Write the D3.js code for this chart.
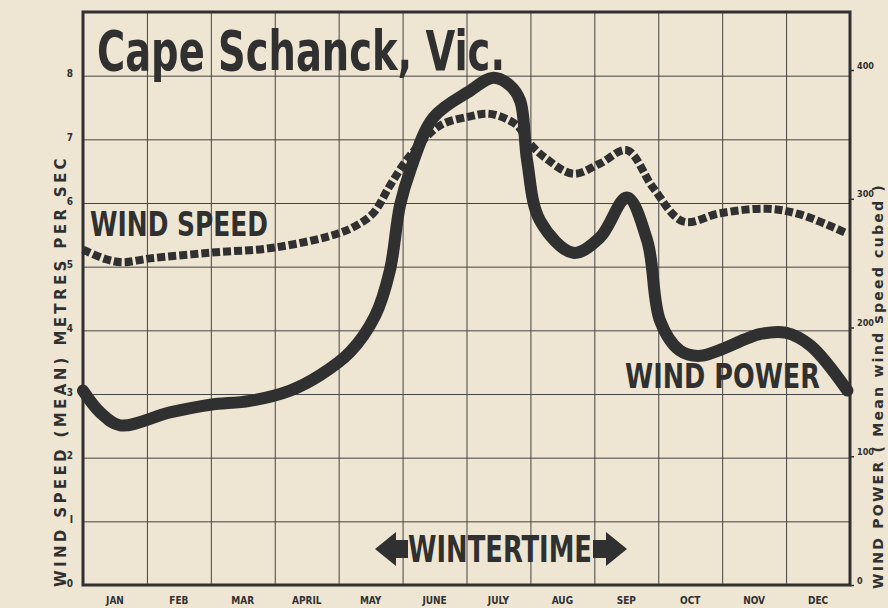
<!DOCTYPE html>
<html>
<head>
<meta charset="utf-8">
<script src="https://cdn.jsdelivr.net/npm/d3@7"></script>
<style>
  body { margin: 0; background: #eee6d3; }
  svg { display: block; }
  .tick text { font-family: "Liberation Sans Narrow", "DejaVu Sans Condensed", sans-serif; font-weight: bold; fill: #2f2f2f; }
</style>
</head>
<body>
<svg id="chart" width="888" height="608"></svg>
<script>
var months = ["JAN", "FEB", "MAR", "APRIL", "MAY", "JUNE", "JULY", "AUG", "SEP", "OCT", "NOV", "DEC"];
var speedTicks = [0, 1, 2, 3, 4, 5, 6, 7, 8];
var powerTicks = [0, 100, 200, 300, 400];

// wind speed (m/s), position in months from 1 Jan
var speedMonth = [0, 0.35, 0.62, 1.05, 2.0, 3.0, 3.99, 4.3, 4.55, 4.8, 5.12, 5.59, 6.06, 6.37, 6.79, 6.95, 7.23, 7.67, 8.09, 8.51, 8.92, 9.39, 9.97, 10.7, 11.22, 11.96];
var speedValue = [5.27, 5.12, 5.07, 5.13, 5.22, 5.3, 5.52, 5.66, 5.85, 6.27, 6.75, 7.22, 7.36, 7.4, 7.22, 6.98, 6.71, 6.46, 6.62, 6.83, 6.24, 5.71, 5.84, 5.91, 5.82, 5.52];

// wind power (mean wind speed cubed)
var powerMonth = [0, 0.27, 0.58, 1.36, 1.99, 2.61, 3.24, 3.71, 4.18, 4.57, 4.8, 4.96, 5.12, 5.48, 6.06, 6.42, 6.68, 6.84, 6.95, 7.15, 7.67, 8.09, 8.51, 8.83, 9.03, 9.34, 9.66, 10.6, 10.99, 11.38, 11.96];
var powerValue = [151, 134, 124, 134, 140, 143, 151, 163, 181, 209, 244, 295, 322, 363, 384, 394, 388, 376, 329, 283, 258, 270, 301, 267, 205, 182, 178, 195, 196, 186, 151];

var ink = "#303030";
var condensed = "'Liberation Sans Narrow', 'DejaVu Sans Condensed', sans-serif";

var svg = d3.select("#chart");

var x = d3.scaleLinear().domain([0, 12]).range([83, 850]);
var y = d3.scaleLinear().domain([0, 9]).range([585, 12]);
var yR = d3.scaleLinear().domain([0, 400]).range([585, 70]);

// grid
svg.append("g")
  .attr("transform", "translate(0,585)")
  .call(d3.axisBottom(x).tickValues(d3.range(1, 12)).tickSize(-573).tickFormat(""))
  .call((g) => g.select(".domain").remove())
  .selectAll("line").attr("stroke", "#444").attr("stroke-width", 1);

svg.append("g")
  .attr("transform", "translate(83,0)")
  .call(d3.axisLeft(y).tickValues(d3.range(1, 9)).tickSize(-767).tickFormat(""))
  .call((g) => g.select(".domain").remove())
  .selectAll("line").attr("stroke", "#444").attr("stroke-width", 1);

// frame
svg.append("rect")
  .attr("x", x(0)).attr("y", y(9))
  .attr("width", x(12) - x(0)).attr("height", y(0) - y(9))
  .attr("fill", "none").attr("stroke", ink).attr("stroke-width", 3);

// left axis labels
svg.append("g")
  .attr("transform", "translate(76,0)")
  .call(d3.axisLeft(y).tickValues(speedTicks).tickSize(0).tickFormat((d) => d === 1 ? "I" : d))
  .call((g) => g.select(".domain").remove())
  .selectAll("text").attr("font-size", 10).attr("dy", "0.1em");

// right axis
svg.append("g")
  .attr("transform", "translate(850,0)")
  .call(d3.axisRight(yR).tickValues(powerTicks).tickSize(4).tickPadding(3))
  .call((g) => g.select(".domain").remove())
  .call((g) => g.selectAll("line").attr("stroke", ink).attr("stroke-width", 1.5))
  .selectAll("text").attr("font-size", 9).attr("dy", "-0.2em");

// months
svg.append("g")
  .selectAll("text")
  .data(months)
  .join("text")
  .attr("x", (d, i) => x(i + 0.5))
  .attr("y", 604)
  .attr("text-anchor", "middle")
  .attr("font-family", condensed)
  .attr("font-weight", "bold")
  .attr("font-size", 10)
  .attr("fill", ink)
  .text((d) => d);

// lines
var line = d3.line().curve(d3.curveCatmullRom.alpha(0.5));

svg.append("path")
  .attr("d", line(speedMonth.map((m, i) => [x(m), y(speedValue[i])])))
  .attr("fill", "none")
  .attr("stroke", ink)
  .attr("stroke-width", 8)
  .attr("stroke-dasharray", "8,3");

svg.append("path")
  .attr("d", line(powerMonth.map((m, i) => [x(m), yR(powerValue[i])])))
  .attr("fill", "none")
  .attr("stroke", ink)
  .attr("stroke-width", 12)
  .attr("stroke-linecap", "round")
  .attr("stroke-linejoin", "round");

// titles
svg.append("text")
  .attr("x", 97).attr("y", 70)
  .attr("font-family", condensed).attr("font-weight", "bold")
  .attr("font-size", 56).attr("fill", ink)
  .attr("textLength", 408).attr("lengthAdjust", "spacingAndGlyphs")
  .text("Cape Schanck, Vic.");

svg.append("text")
  .attr("x", 90).attr("y", 236)
  .attr("font-family", condensed).attr("font-weight", "bold")
  .attr("font-size", 33).attr("fill", ink)
  .attr("textLength", 178).attr("lengthAdjust", "spacingAndGlyphs")
  .text("WIND SPEED");

svg.append("text")
  .attr("x", 625).attr("y", 388)
  .attr("font-family", condensed).attr("font-weight", "bold")
  .attr("font-size", 33).attr("fill", ink)
  .attr("textLength", 195).attr("lengthAdjust", "spacingAndGlyphs")
  .text("WIND POWER");

// wintertime arrow
var wy = 549;
svg.append("path")
  .attr("d", "M375," + wy + " L396," + (wy - 17) + " L396," + (wy - 9) + " L408," + (wy - 9) +
             " L408," + (wy + 9) + " L396," + (wy + 9) + " L396," + (wy + 17) + " Z")
  .attr("fill", ink);
svg.append("path")
  .attr("d", "M627," + wy + " L606," + (wy - 17) + " L606," + (wy - 9) + " L593," + (wy - 9) +
             " L593," + (wy + 9) + " L606," + (wy + 9) + " L606," + (wy + 17) + " Z")
  .attr("fill", ink);
svg.append("text")
  .attr("x", 408).attr("y", 562)
  .attr("font-family", condensed).attr("font-weight", "bold")
  .attr("font-size", 37).attr("fill", ink)
  .attr("textLength", 184).attr("lengthAdjust", "spacingAndGlyphs")
  .text("WINTERTIME");

// axis titles
svg.append("text")
  .attr("transform", "translate(66,371) rotate(-90)")
  .attr("text-anchor", "middle")
  .attr("font-family", condensed).attr("font-weight", "bold")
  .attr("font-size", 15).attr("letter-spacing", 3).attr("fill", ink)
  .attr("textLength", 432).attr("lengthAdjust", "spacingAndGlyphs")
  .text("WIND  SPEED  (MEAN)  METRES  PER  SEC");

svg.append("text")
  .attr("transform", "translate(883,386) rotate(-90)")
  .attr("text-anchor", "middle")
  .attr("font-family", condensed).attr("font-weight", "bold")
  .attr("font-size", 14).attr("letter-spacing", 2).attr("fill", ink)
  .attr("textLength", 406).attr("lengthAdjust", "spacingAndGlyphs")
  .text("WIND  POWER ( Mean wind speed cubed )");
</script>
</body>
</html>
